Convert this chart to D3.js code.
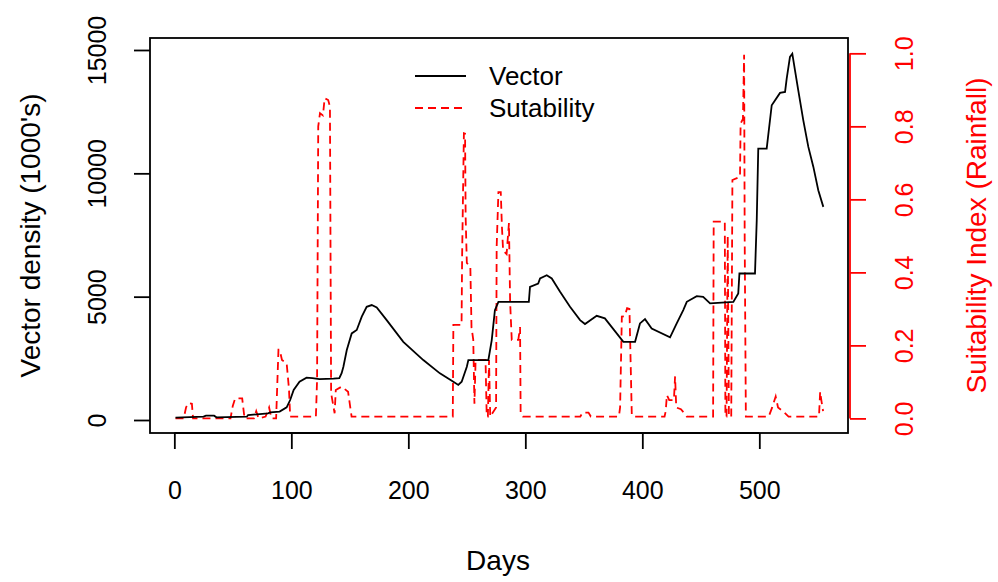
<!DOCTYPE html>
<html>
<head>
<meta charset="utf-8">
<script src="https://cdn.jsdelivr.net/npm/d3@7"></script>
<style>
  body { margin: 0; background: #fff; }
  svg text { font-family: "Liberation Sans", Arial, sans-serif; }
</style>
</head>
<body>
<svg id="chart" width="998" height="582"></svg>
<script>
// vector density (1000's)
const vectorDays = [1, 25, 27, 34, 36, 62, 63, 80, 82, 90, 96, 99, 102, 107, 113, 118, 124, 136, 141, 143, 144.5, 147.4,
  151.6, 155.9, 160.2, 164.4, 168.7, 173, 181.5, 195.7, 212.8, 227, 238.5, 242.7, 245.6, 250, 251.3, 268.4, 271.3, 274,
  277, 303, 304, 311, 312.6, 318.3, 322.6, 329.7, 338.2, 346.8, 351, 361, 368, 383.8, 393.8, 398, 402.3, 408, 423.7,
  429.4, 435, 438, 446.5, 452, 457.9, 477.8, 482, 483, 496.3, 497.8, 499.1, 506.3, 510.6, 517.7, 522, 523.4, 526.2,
  528.2, 530.5, 533.3, 537.6, 541.9, 546.2, 550.4, 554.7]
const vectorValues = [100, 135, 175, 175, 110, 135, 200, 270, 310, 340, 515, 810, 1215, 1550, 1715, 1700, 1660, 1675, 1700, 1900, 2160, 2835,
  3510, 3650, 4190, 4590, 4660, 4565, 4050, 3170, 2430, 1890, 1550, 1420, 1550, 2160, 2430, 2430, 3240, 4455,
  4790, 4790, 5400, 5535, 5740, 5870, 5740, 5200, 4590, 4050, 3890, 4225, 4120, 3170, 3170, 3915, 4090, 3710, 3350,
  3915, 4455, 4790, 5020, 4995, 4725, 4790, 5130, 5940, 5940, 8100, 11000, 11000, 12760, 13260, 13300, 13840, 14720,
  14850, 14175, 13365, 12150, 11070, 10260, 9315, 8640]

// suitability index (rainfall)
const suitDays = [1, 8, 10, 12, 15, 16, 48, 50, 52, 58, 60, 68, 70, 72, 78, 81, 83, 87, 89, 90, 92, 96, 98, 99, 121, 122, 123,
  124.5, 127, 128.5, 131.5, 133, 134, 137, 138, 143, 148.5, 151.5, 238, 238.5, 245.5, 246, 247.5, 248.5, 249, 250, 253,
  254, 255.5, 256.5, 257.5, 266, 267, 268, 269, 270, 275, 275.5, 277, 279, 280, 281, 284, 286, 287, 288.4, 294, 295.5,
  296, 298, 347, 349, 354, 356, 380, 381, 382.5, 385, 387, 389, 391, 392, 419, 420, 421, 423, 427, 428, 429, 433, 437,
  438, 460.5, 461, 470.5, 471, 472, 473, 474, 476, 477, 483.5, 484, 486, 487, 487.5, 488.5, 508, 511, 514, 516, 520,
  525, 551, 552, 553, 554.5]
const suitValues = [0, 0, 0.03, 0.042, 0.04, 0, 0, 0.035, 0.055, 0.055, 0, 0, 0.02, 0, 0.005, 0.03, 0, 0, 0.188, 0.188, 0.16, 0.151, 0.08, 0.005, 0.005, 0.105, 0.8,
  0.836, 0.83, 0.877, 0.872, 0.854, 0.069, 0.014, 0.078, 0.087, 0.073, 0.005, 0.005, 0.256, 0.256, 0.45, 0.781, 0.78, 0.55, 0.426, 0.416,
  0.25, 0.215, 0.04, 0.16, 0.16, 0.005, 0.005, 0.16, 0.005, 0.03, 0.47, 0.62, 0.62, 0.525, 0.46, 0.45, 0.535, 0.32, 0.215, 0.215, 0.25,
  0.015, 0.005, 0.005, 0.016, 0.016, 0.005, 0.005, 0.03, 0.279, 0.28, 0.302, 0.3, 0.01, 0.005, 0.005, 0.02, 0.064, 0.05, 0.05, 0.115, 0.03, 0.025, 0.01,
  0.005, 0.005, 0.539, 0.539, 0.005, 0.005, 0.5, 0.005, 0.005, 0.653, 0.662, 0.808, 0.82, 0.996, 0.49, 0.005, 0.005, 0.03, 0.06, 0.03, 0.02,
  0.005, 0.005, 0.073, 0.05, 0.02]

const xTicks = [0, 100, 200, 300, 400, 500]
const leftTicks = [0, 5000, 10000, 15000]
const rightTicks = [0, 0.2, 0.4, 0.6, 0.8, 1.0]

const svg = d3.select('#chart')
const box = { left: 150, right: 848, top: 38, bottom: 433 }

const x = d3.scaleLinear().domain([-20.8, 575.8]).range([box.left, box.right])
const yL = d3.scaleLinear().domain([-527, 15486]).range([box.bottom, box.top])
const yR = d3.scaleLinear().domain([-0.04, 1.042]).range([box.bottom, box.top])

// red dashed suitability
const suitLine = d3.line().x((d, i) => x(suitDays[i])).y((d) => yR(d))
svg.append('path')
  .attr('d', suitLine(suitValues))
  .attr('fill', 'none')
  .attr('stroke', '#ff0000')
  .attr('stroke-width', 1.8)
  .attr('stroke-dasharray', '8,5')

// black vector line
const vecLine = d3.line().x((d, i) => x(vectorDays[i])).y((d) => yL(d))
svg.append('path')
  .attr('d', vecLine(vectorValues))
  .attr('fill', 'none')
  .attr('stroke', '#000')
  .attr('stroke-width', 1.8)

// box
svg.append('rect')
  .attr('x', box.left).attr('y', box.top)
  .attr('width', box.right - box.left).attr('height', box.bottom - box.top)
  .attr('fill', 'none').attr('stroke', '#000').attr('stroke-width', 1.8)

// bottom axis, line only spans the ticks like R
const gx = svg.append('g').attr('transform', 'translate(0,' + box.bottom + ')')
  .call(d3.axisBottom(x).tickValues(xTicks).tickSize(16).tickSizeOuter(0).tickFormat(d3.format('d')))
gx.select('.domain').attr('stroke-width', 1.8).attr('d', 'M' + x(0) + ',0H' + x(500))
gx.selectAll('line').attr('stroke-width', 1.8)
gx.selectAll('text').attr('font-size', 25).attr('fill', '#000').attr('dy', '0.35em').attr('y', 57)

// left axis
const gl = svg.append('g').attr('transform', 'translate(' + box.left + ',0)')
  .call(d3.axisLeft(yL).tickValues(leftTicks).tickSize(16).tickFormat(d3.format('d')))
gl.select('.domain').remove()
gl.selectAll('line').attr('stroke-width', 1.8)
gl.selectAll('text')
  .attr('font-size', 25).attr('fill', '#000')
  .attr('text-anchor', 'middle').attr('dy', '0.35em')
  .attr('x', null)
  .attr('transform', 'translate(-53,0) rotate(-90)')

// right axis in red
const gr = svg.append('g').attr('transform', 'translate(' + (box.right + 2) + ',0)')
  .call(d3.axisRight(yR).tickValues(rightTicks).tickSize(16).tickFormat(d3.format('.1f')))
gr.select('.domain').attr('stroke', '#ff0000').attr('stroke-width', 1.8)
  .attr('d', 'M0,' + yR(0) + 'V' + yR(1))
gr.selectAll('line').attr('stroke', '#ff0000').attr('stroke-width', 1.8)
gr.selectAll('text')
  .attr('font-size', 25).attr('fill', '#ff0000')
  .attr('text-anchor', 'middle').attr('dy', '0.35em')
  .attr('x', null)
  .attr('transform', 'translate(54,0) rotate(-90)')

// axis titles
svg.append('text')
  .attr('x', (box.left + box.right) / 2 - 1).attr('y', 560)
  .attr('text-anchor', 'middle').attr('dy', '0.35em')
  .attr('font-size', 28).text('Days')

svg.append('text')
  .attr('transform', 'translate(30,' + (box.top + box.bottom) / 2 + ') rotate(-90)')
  .attr('text-anchor', 'middle').attr('dy', '0.35em')
  .attr('font-size', 28).text("Vector density (1000's)")

svg.append('text')
  .attr('transform', 'translate(976,' + (box.top + box.bottom) / 2 + ') rotate(-90)')
  .attr('text-anchor', 'middle').attr('dy', '0.35em')
  .attr('font-size', 28).attr('fill', '#ff0000')
  .text('Suitability Index (Rainfall)')

// legend
const legend = [
  { label: 'Vector', color: '#000', dash: null, y: 76 },
  { label: 'Sutability', color: '#ff0000', dash: '8,5', y: 108 },
]
const lg = svg.append('g')
lg.selectAll('line').data(legend).enter().append('line')
  .attr('x1', 415).attr('x2', 466)
  .attr('y1', (d) => d.y).attr('y2', (d) => d.y)
  .attr('stroke', (d) => d.color).attr('stroke-width', 1.8)
  .attr('stroke-dasharray', (d) => d.dash)
lg.selectAll('text').data(legend).enter().append('text')
  .attr('x', 489).attr('y', (d) => d.y).attr('dy', '0.35em')
  .attr('font-size', 26).text((d) => d.label)
</script>
</body>
</html>
